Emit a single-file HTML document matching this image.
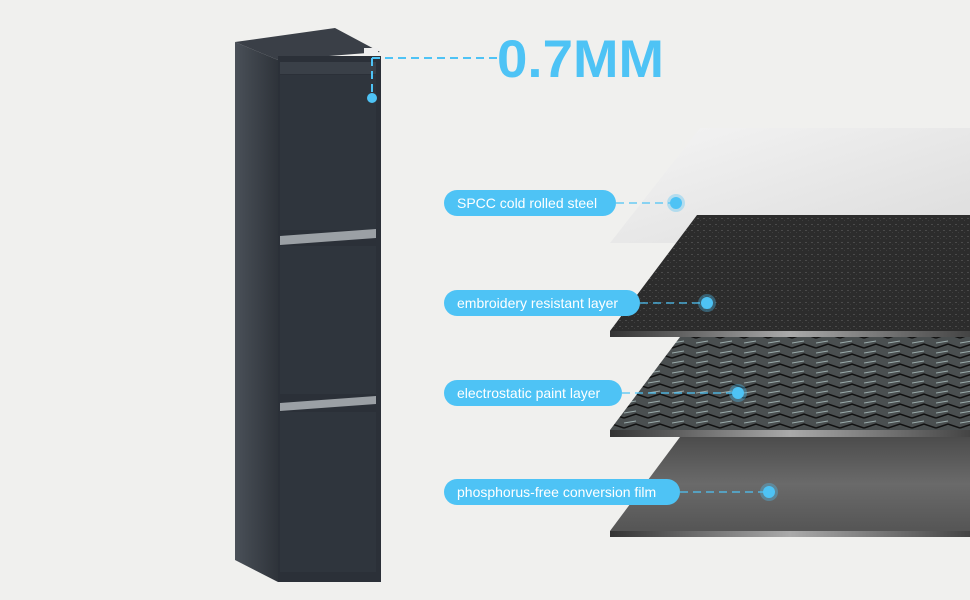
<!DOCTYPE html>
<html><head><style>
body{margin:0;width:970px;height:600px;overflow:hidden;background:#f0f0ee;font-family:"Liberation Sans",sans-serif;position:relative}
.pill{position:absolute;height:26px;line-height:26px;background:#4ec3f5;color:#fff;border-radius:13px;font-size:14px;padding:0 13px;box-sizing:border-box}
</style></head><body>
<svg width="970" height="600" style="position:absolute;left:0;top:0">
<defs>
<linearGradient id="edge" x1="0" x2="1"><stop offset="0" stop-color="#333"/><stop offset=".5" stop-color="#aaa"/><stop offset="1" stop-color="#444"/></linearGradient>
<linearGradient id="side" x1="0" x2="1"><stop offset="0" stop-color="#4a5058"/><stop offset="1" stop-color="#2e333a"/></linearGradient>
<linearGradient id="white" x1="0" x2="1" y1="0" y2="1"><stop offset="0" stop-color="#f4f4f4"/><stop offset="1" stop-color="#dcdcdc"/></linearGradient>
<linearGradient id="brush" x1="0" x2="0" y1="0" y2="1"><stop offset="0" stop-color="#4c4c4c"/><stop offset=".5" stop-color="#6a6a6a"/><stop offset="1" stop-color="#555"/></linearGradient>
<pattern id="weave" width="24" height="10" patternUnits="userSpaceOnUse"><rect width="24" height="10" fill="#4a4f50"/><path d="M0 8 L12 4 L24 8" stroke="#111" stroke-width="1.5" fill="none"/><path d="M0 3 L12 1" stroke="#9aa" stroke-width="1" fill="none"/></pattern>
<pattern id="dark" width="6" height="6" patternUnits="userSpaceOnUse"><rect width="6" height="6" fill="#2c2c2c"/><rect x="1" y="2" width="2" height="1" fill="#4a4a4a"/><rect x="4" y="4" width="1" height="1" fill="#3e3e3e"/></pattern>
</defs>
<polygon points="700,128 970,128 970,243 610,243" fill="url(#white)"/>
<polygon points="697,215 970,215 970,331 610,331" fill="url(#dark)"/>
<rect x="610" y="331" width="360" height="6" fill="url(#edge)"/>
<polygon points="680,337 970,337 970,430 610,430" fill="url(#weave)"/>
<rect x="610" y="430" width="360" height="7" fill="url(#edge)"/>
<polygon points="680,437 970,437 970,531 610,531" fill="url(#brush)"/>
<rect x="610" y="531" width="360" height="6" fill="url(#edge)"/>
<!-- cabinet -->
<polygon points="235,42 278,60 278,582 235,560" fill="url(#side)"/>
<polygon points="235,42 335,28 380,52 278,60" fill="#3a3f47"/>
<rect x="278" y="56" width="103" height="526" fill="#2b3038"/>
<rect x="280" y="62" width="96" height="12" fill="#3a4048"/>
<rect x="280" y="75" width="96" height="155" fill="#2f353d"/>
<polygon points="280,236 376,229 376,238 280,245" fill="#9ba0a5"/>
<rect x="280" y="246" width="96" height="148" fill="#2f353d"/>
<polygon points="280,403 376,396 376,404 280,411" fill="#9ba0a5"/>
<rect x="280" y="412" width="96" height="160" fill="#2f353d"/>
<rect x="364" y="48" width="14" height="6" fill="#eee"/>
<g stroke="#4ec3f5" stroke-width="2" stroke-dasharray="8,5" fill="none">
<path d="M372 58 H498"/><path d="M372 58 V98"/>
</g>
<circle cx="372" cy="98" r="5" fill="#4ec3f5"/>
<g stroke="#4ec3f5" stroke-width="1.3" stroke-dasharray="8,5">
<line x1="616" y1="203" x2="676" y2="203"/><line x1="640" y1="303" x2="707" y2="303"/>
<line x1="622" y1="393" x2="738" y2="393"/><line x1="680" y1="492" x2="769" y2="492"/>
</g>
<g fill="#4ec3f5" opacity=".35"><circle cx="676" cy="203" r="9"/><circle cx="707" cy="303" r="9"/><circle cx="738" cy="393" r="9"/><circle cx="769" cy="492" r="9"/></g>
<g fill="#4ec3f5"><circle cx="676" cy="203" r="6"/><circle cx="707" cy="303" r="6"/><circle cx="738" cy="393" r="6"/><circle cx="769" cy="492" r="6"/></g>
<text x="497" y="77" font-family="Liberation Sans" font-weight="bold" font-size="53" fill="#4ec3f5" textLength="167" lengthAdjust="spacingAndGlyphs">0.7MM</text>
</svg>
<div class="pill" style="left:444px;top:190px;width:172px">SPCC cold rolled steel</div>
<div class="pill" style="left:444px;top:290px;width:196px">embroidery resistant layer</div>
<div class="pill" style="left:444px;top:380px;width:178px">electrostatic paint layer</div>
<div class="pill" style="left:444px;top:479px;width:236px">phosphorus-free conversion film</div>
</body></html>
